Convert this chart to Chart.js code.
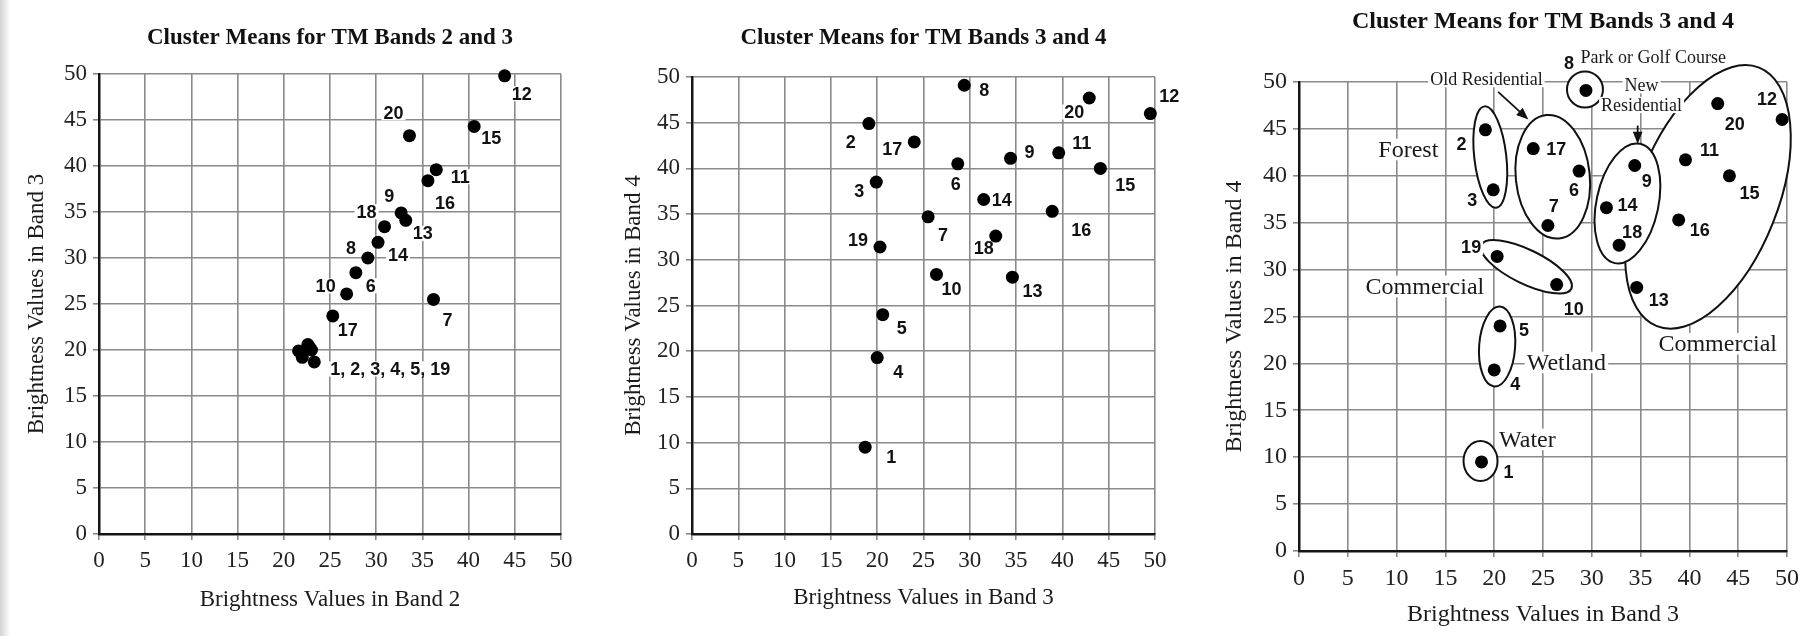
<!DOCTYPE html>
<html>
<head>
<meta charset="utf-8">
<title>Cluster Means for TM Bands</title>
<script src="https://cdn.jsdelivr.net/npm/chart.js@4.4.1/dist/chart.umd.min.js"></script>
<style>
  html, body { margin: 0; padding: 0; background: #fff; }
  body { width: 1806px; height: 636px; position: relative; overflow: hidden; }
  canvas { position: absolute; top: 0; }
  #edge { position: absolute; left: 0; top: 0; width: 10px; height: 636px; background: linear-gradient(to right, #d2d2d2, #fff); }
</style>
</head>
<body>
<div id="edge"></div>
<canvas id="chartLeft" width="600" height="636" style="left:0"></canvas>
<canvas id="chartMid" width="600" height="636" style="left:600px"></canvas>
<canvas id="chartRight" width="606" height="636" style="left:1200px"></canvas>
<script>
// Cluster means, clusters 1..20
var clusters = ['1', '2', '3', '4', '5', '6', '7', '8', '9', '10',
                '11', '12', '13', '14', '15', '16', '17', '18', '19', '20'];

// left plot: band 2 (x) against band 3 (y)
var band2 = [23.3, 22.0, 21.6, 23.0, 22.6, 27.8, 36.2, 29.1, 32.7, 26.8,
             36.5, 43.9, 33.2, 30.2, 40.6, 35.6, 25.3, 30.9, 22.8, 33.6];
var band3Left = [18.7, 19.2, 19.9, 20.0, 20.6, 28.4, 25.5, 30.0, 34.9, 26.1,
                 39.6, 49.8, 34.1, 31.7, 44.3, 38.4, 23.7, 33.4, 20.3, 43.3];

// middle and right plots: band 3 (x) against band 4 (y)
var band3 = [18.7, 19.1, 19.9, 20.0, 20.6, 28.7, 25.5, 29.4, 34.4, 26.4,
             39.6, 49.5, 34.6, 31.5, 44.1, 38.9, 24.0, 32.8, 20.3, 42.9];
var band4 = [9.5, 44.9, 38.5, 19.3, 24.0, 40.5, 34.7, 49.1, 41.1, 28.4,
             41.7, 46.0, 28.1, 36.6, 40.0, 35.3, 42.9, 32.6, 31.4, 47.7];

var axisTicks = [0, 5, 10, 15, 20, 25, 30, 35, 40, 45, 50];

// label text for the left plot (the low group shares one label)
var leftLabels = clusters.map(function(c) { return c; });
leftLabels[0] = '1, 2, 3, 4, 5, 19';
[1, 2, 3, 4, 18].forEach(function(i) { leftLabels[i] = ''; });

// label offsets in pixels, one per cluster
var leftOffsets = [[76, 7], [0, 0], [0, 0], [0, 0], [0, 0], [15, 13], [14, 21], [-17, -10], [-12, -17], [-21, -8],
                   [24, 7], [17, 18], [17, 13], [20, 13], [17, 12], [17, 22], [15, 14], [-18, -15], [0, 0], [-16, -23]];
var midOffsets = [[26, 10], [-18, 18], [-17, 9], [21, 14], [19, 13], [-2, 20], [15, 18], [20, 5], [19, -6], [15, 15],
                  [23, -10], [19, -18], [20, 14], [18, 1], [25, 17], [29, 19], [-22, 7], [-12, 12], [-22, -7], [-15, 14]];
var rightOffsets = [[27, 10], [-24, 14], [-21, 10], [21, 14], [24, 4], [-5, 19], [6, -19], [-17, -27], [12, 16], [17, 24],
                    [24, -10], [-15, -20], [22, 13], [21, -3], [20, 17], [21, 10], [23, 0], [13, -13], [-26, -9], [17, 20]];

var serif = '"Liberation Serif", "Times New Roman", Times, serif';
var sans = '"Liberation Sans", Arial, Helvetica, sans-serif';

// Point labels: white box first (under the dots), then the text
var pointLabels = {
    id: 'pointLabels',
    beforeDatasetsDraw: function(chart, args, opts) {
        var ctx = chart.ctx;
        ctx.save();
        ctx.font = 'bold ' + opts.size + 'px ' + sans;
        chart.getDatasetMeta(0).data.forEach(function(pt, i) {
            var text = opts.texts[i];
            if (!text) return;
            var w = ctx.measureText(text).width;
            var x = pt.x + opts.offsets[i][0], y = pt.y + opts.offsets[i][1];
            ctx.fillStyle = '#fff';
            ctx.fillRect(x - w / 2 - 2, y - opts.size * 0.42, w + 4, opts.size * 0.84);
        });
        ctx.restore();
    },
    afterDatasetsDraw: function(chart, args, opts) {
        var ctx = chart.ctx;
        ctx.save();
        ctx.font = 'bold ' + opts.size + 'px ' + sans;
        ctx.fillStyle = '#111';
        ctx.textAlign = 'center';
        ctx.textBaseline = 'middle';
        chart.getDatasetMeta(0).data.forEach(function(pt, i) {
            var text = opts.texts[i];
            if (!text) return;
            ctx.fillText(text, pt.x + opts.offsets[i][0], pt.y + opts.offsets[i][1] + 1);
        });
        ctx.restore();
    }
};

// Group outlines, arrows and land cover names on the right plot
var clusterGroups = {
    id: 'clusterGroups',
    beforeDatasetsDraw: function(chart, args, opts) {
        var ctx = chart.ctx;
        var xs = chart.scales.x, ys = chart.scales.y;
        ctx.save();
        ctx.lineWidth = 2;
        ctx.strokeStyle = '#111';
        opts.ellipses.forEach(function(e) {
            ctx.beginPath();
            ctx.ellipse(xs.getPixelForValue(e.x), ys.getPixelForValue(e.y), e.rx, e.ry, e.rot * Math.PI / 180, 0, Math.PI * 2);
            ctx.fillStyle = '#fff';
            ctx.fill();
            ctx.stroke();
        });
        opts.notes.forEach(function(n) {
            ctx.font = n.size + 'px ' + serif;
            var w = ctx.measureText(n.text).width;
            var x = xs.getPixelForValue(n.x), y = ys.getPixelForValue(n.y);
            ctx.fillStyle = '#fff';
            ctx.fillRect(x - w / 2 - 2, y - n.size * 0.45, w + 4, n.size * 0.9);
            ctx.fillStyle = '#1a1a1a';
            ctx.textAlign = 'center';
            ctx.textBaseline = 'middle';
            ctx.fillText(n.text, x, y + 1);
        });
        ctx.fillStyle = '#111';
        ctx.lineWidth = 1.8;
        opts.arrows.forEach(function(a) {
            var x1 = xs.getPixelForValue(a.from[0]), y1 = ys.getPixelForValue(a.from[1]);
            var x2 = xs.getPixelForValue(a.to[0]), y2 = ys.getPixelForValue(a.to[1]);
            var ang = Math.atan2(y2 - y1, x2 - x1);
            ctx.beginPath();
            ctx.moveTo(x1, y1);
            ctx.lineTo(x2 - 8 * Math.cos(ang), y2 - 8 * Math.sin(ang));
            ctx.stroke();
            ctx.beginPath();
            ctx.moveTo(x2, y2);
            ctx.lineTo(x2 - 13 * Math.cos(ang - 0.38), y2 - 13 * Math.sin(ang - 0.38));
            ctx.lineTo(x2 - 13 * Math.cos(ang + 0.38), y2 - 13 * Math.sin(ang + 0.38));
            ctx.closePath();
            ctx.fill();
        });
        ctx.restore();
    }
};

function makeAxis(title, opt) {
    return {
        type: 'linear',
        min: 0,
        max: 50,
        afterBuildTicks: function(scale) {
            scale.ticks = axisTicks.map(function(v) { return {value: v}; });
        },
        afterFit: function(scale) {
            if (opt.width) scale.width = opt.width;
            if (opt.height) scale.height = opt.height;
        },
        ticks: {
            font: {family: serif, size: opt.tickSize},
            color: '#222',
            padding: opt.tickPad,
            maxRotation: 0,
            autoSkip: false
        },
        grid: {color: '#8a8a8a', lineWidth: 1.6, tickLength: 6},
        border: {color: '#151515', width: 2.5},
        title: {
            display: true,
            text: title,
            font: {family: serif, size: opt.titleSize},
            color: '#1a1a1a',
            padding: opt.titlePad
        }
    };
}

function makeChart(id, xs, ys, cfg) {
    var points = xs.map(function(x, i) { return {x: x, y: ys[i]}; });
    var plugins = cfg.groups ? [clusterGroups, pointLabels] : [pointLabels];
    return new Chart(document.getElementById(id), {
        type: 'scatter',
        data: {
            datasets: [{
                data: points,
                backgroundColor: '#000',
                borderWidth: 0,
                pointRadius: 6.5,
                pointHoverRadius: 6.5,
                clip: 12
            }]
        },
        options: {
            responsive: false,
            animation: false,
            layout: {padding: {left: 0, right: cfg.padRight, top: 0, bottom: 0}},
            scales: {
                x: makeAxis(cfg.xTitle, {height: cfg.xHeight, tickSize: cfg.tickSize, tickPad: 7,
                                         titleSize: cfg.axisTitleSize, titlePad: {top: 0, bottom: cfg.xTitlePad}}),
                y: makeAxis(cfg.yTitle, {width: cfg.yWidth, tickSize: cfg.tickSize, tickPad: 6,
                                         titleSize: cfg.axisTitleSize, titlePad: {top: cfg.yTitlePad, bottom: 0}})
            },
            plugins: {
                legend: {display: false},
                tooltip: {enabled: false},
                title: {
                    display: true,
                    text: cfg.title,
                    fullSize: false,
                    color: '#111',
                    font: {family: serif, size: cfg.titleSize, weight: 'bold'},
                    padding: {top: cfg.titleTop, bottom: cfg.titleBottom}
                },
                pointLabels: {texts: cfg.labels, offsets: cfg.offsets, size: 18},
                clusterGroups: cfg.groups || {}
            }
        },
        plugins: plugins
    });
}

makeChart('chartLeft', band2, band3Left, {
    title: 'Cluster Means for TM Bands 2 and 3',
    xTitle: 'Brightness Values in Band 2',
    yTitle: 'Brightness Values in Band 3',
    labels: leftLabels, offsets: leftOffsets,
    padRight: 39, yWidth: 99, xHeight: 102,
    tickSize: 23, axisTitleSize: 23, titleSize: 23,
    titleTop: 24, titleBottom: 22.4, xTitlePad: 22, yTitlePad: 23
});

makeChart('chartMid', band3, band4, {
    title: 'Cluster Means for TM Bands 3 and 4',
    xTitle: 'Brightness Values in Band 3',
    yTitle: 'Brightness Values in Band 4',
    labels: clusters, offsets: midOffsets,
    padRight: 45, yWidth: 92, xHeight: 102,
    tickSize: 23, axisTitleSize: 23, titleSize: 23,
    titleTop: 24.2, titleBottom: 25.2, xTitlePad: 24.2, yTitlePad: 20
});

makeChart('chartRight', band3, band4, {
    title: 'Cluster Means for TM Bands 3 and 4',
    xTitle: 'Brightness Values in Band 3',
    yTitle: 'Brightness Values in Band 4',
    labels: clusters, offsets: rightOffsets,
    padRight: 18, yWidth: 99, xHeight: 85,
    tickSize: 24, axisTitleSize: 24, titleSize: 24,
    titleTop: 7.6, titleBottom: 45.6, xTitlePad: 6.6, yTitlePad: 20.6,
    groups: {
        ellipses: [
            {x: 41.9, y: 37.75, rx: 70, ry: 139, rot: 21.6},   // Commercial (upper right)
            {x: 19.6, y: 42.0, rx: 16, ry: 51, rot: -6.6},     // Forest
            {x: 26.0, y: 39.9, rx: 37, ry: 62, rot: -6},       // Old Residential
            {x: 29.3, y: 49.2, rx: 18, ry: 18, rot: 0},        // Park or Golf Course
            {x: 33.65, y: 37.05, rx: 31, ry: 61, rot: 12},     // New Residential
            {x: 23.3, y: 30.3, rx: 50, ry: 17, rot: 26},       // Commercial (19, 10)
            {x: 20.3, y: 21.8, rx: 18, ry: 40, rot: 4},        // Wetland
            {x: 18.6, y: 9.6, rx: 17, ry: 20, rot: 0}          // Water
        ],
        notes: [
            {text: 'Forest', x: 11.2, y: 42.8, size: 24},
            {text: 'Commercial', x: 12.9, y: 28.2, size: 24},
            {text: 'Old Residential', x: 19.2, y: 50.3, size: 18},
            {text: 'Park or Golf Course', x: 36.3, y: 52.6, size: 18},
            {text: 'New', x: 35.1, y: 49.65, size: 18},
            {text: 'Residential', x: 35.1, y: 47.55, size: 18},
            {text: 'Commercial', x: 42.9, y: 22.1, size: 24},
            {text: 'Wetland', x: 27.4, y: 20.1, size: 24},
            {text: 'Water', x: 23.4, y: 11.9, size: 24}
        ],
        arrows: [
            {from: [20.4, 48.95], to: [23.5, 46.0]},
            {from: [34.7, 45.35], to: [34.7, 43.4]}
        ]
    }
});
</script>
</body>
</html>
